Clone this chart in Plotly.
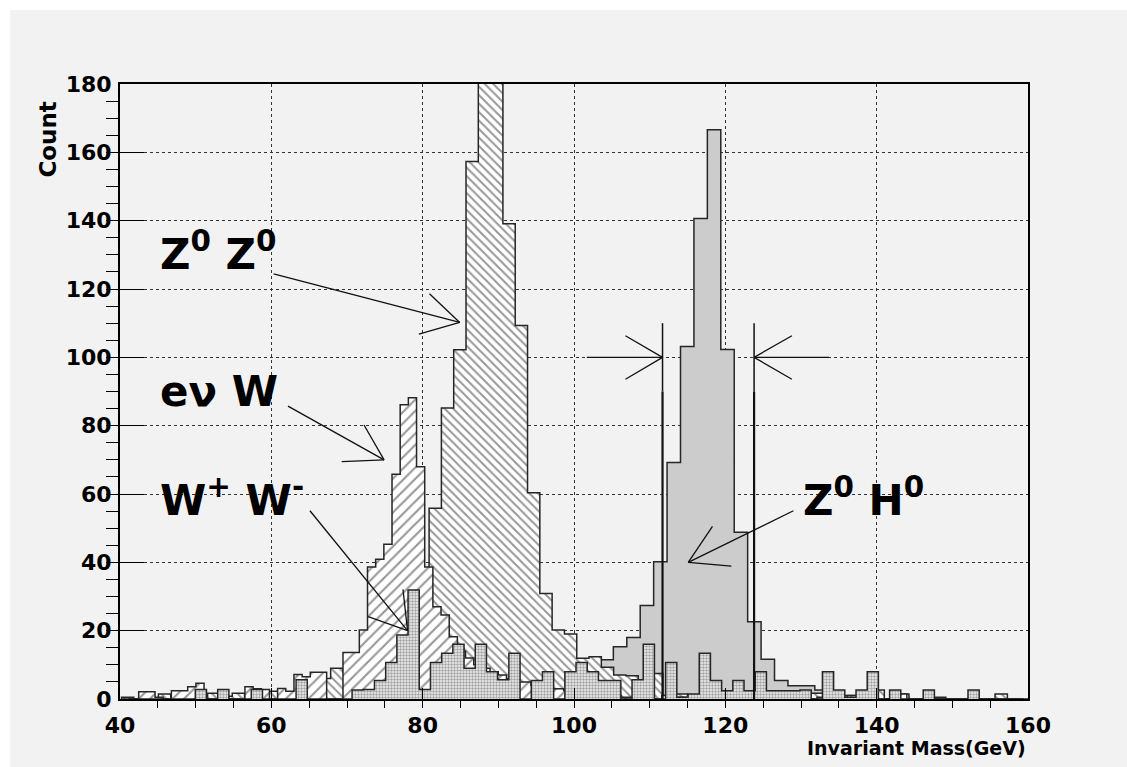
import numpy as np
import plotly.graph_objects as go

# ---- histogram contents (counts per bin) ----
# Z0 H0 signal, bins of 1.775 GeV starting at 41.30 GeV
zh_start, zh_width = 41.30, 1.775
zh_counts = [0] * 35 + [
    11.5, 15.3, 18.0, 27.4, 40.2, 69.2, 103.2, 140.6, 166.6, 102.3,
    48.8, 22.6, 11.6, 5.4, 3.9, 3.9, 2.6, 1.5, 1.0, 0.5, 0.5, 0, 0.5,
]

# Z0 Z0 background, bins of 1.626 GeV starting at 40.20 GeV
zz_start, zz_width = 40.20, 1.626
zz_counts = [
    0.5, 0, 0, 1.5, 0, 2.1, 0, 1.7, 0.8, 1.7,
    0, 2.3, 2.3, 0, 0, 3.0, 6.0, 9.0, 8.0, 8.0,
    15.0, 20.0, 25.0, 30.0, 35.0, 55.8, 85.2, 102.2, 157.3, 200.0,
    192.0, 139.1, 109.3, 60.4, 30.9, 20.2, 19.0, 11.9, 12.4, 9.3,
    7.0, 6.8, 5.6, 7.5, 1.0, 1.5, 1.0, 0.5, 0, 0.5,
    0, 0, 0.5, 0, 0, 0, 1.7, 0, 0, 1.0,
    0, 2.6, 0, 1.5, 0, 0, 0.5, 0, 0, 0,
    0, 1.5, 0, 0,
]

# e nu W background, bins of 1.08 GeV starting at 40.31 GeV
enw_start, enw_width = 40.31, 1.08
enw_counts = [
    0, 0, 2.1, 2.1, 0.5, 0, 2.4, 2.4, 3.6, 4.6,
    0, 0, 0.8, 0, 0, 3.6, 3.0, 2.8, 0, 3.1,
    2.3, 7.2, 6.5, 7.8, 7.8, 0, 0, 13.6, 13.6, 20.2,
    38.6, 40.9, 45.3, 65.8, 86.1, 88.2, 68.0, 38.6, 27.0, 24.6,
    18.2, 14.0, 12.0, 10.0, 9.0, 8.0, 7.0, 6.0, 5.0, 5.0,
    4.0, 4.0, 3.0, 3.0, 2.5, 2.0, 2.0, 1.5, 1.5, 1.0,
    1.0, 0.5, 0.5, 0, 0, 0, 1.0, 0, 0.5, 0,
    0, 0, 0, 0, 0.5, 0, 0, 0, 0, 0,
    0, 0, 0, 0, 0, 0.5, 0, 0, 0, 0,
    0, 0, 0, 0, 0, 1.5, 0, 0, 0, 0,
    0, 0, 0, 0, 0, 0, 0, 0, 0, 0,
]

# W+ W- background, bins of 1.48 GeV starting at 41.07 GeV
ww_start, ww_width = 41.07, 1.48
ww_counts = [
    0, 0, 0, 0, 0, 0, 2.8, 0, 2.8, 0,
    0, 2.8, 0, 0, 0, 5.6, 0, 0, 0, 0,
    2.6, 2.8, 5.4, 10.7, 18.7, 31.9, 2.8, 10.7, 13.4, 16.0,
    9.0, 16.0, 8.0, 5.6, 13.4, 0, 5.4, 8.0, 0, 8.0,
    10.7, 8.0, 5.4, 5.4, 0, 5.6, 16.0, 0, 10.7, 0.5,
    1.5, 13.4, 5.4, 2.4, 5.4, 2.4, 8.0, 2.4, 2.4, 2.4,
    2.6, 0, 8.0, 2.6, 0.5, 2.6, 8.0, 0, 2.6, 0,
    0, 2.6, 0, 0, 0, 2.6, 0, 0, 0, 0,
]

# axis ranges and tick values
x_range = [40, 160]
y_range = [0, 180]
x_ticks = [40, 60, 80, 100, 120, 140, 160]
y_ticks = [0, 20, 40, 60, 80, 100, 120, 140, 160, 180]

# mass window cut positions (GeV)
cut_low, cut_high = 111.7, 123.8


def step_outline(start, width, counts):
    """Return x/y points of a histogram outline for an 'hv' line."""
    counts = list(counts)
    edges = start + width * np.arange(len(counts) + 1)
    xs = [edges[0]] + list(edges[:-1]) + [edges[-1]]
    ys = [0] + counts + [0]
    return xs, ys


FONT = "DejaVu Sans, Verdana, sans-serif"
OUTLINE = "#262626"
BG = "#f2f2f2"

fig = go.Figure()


def add_hist(start, width, counts, fillcolor, pattern=None, name=""):
    xs, ys = step_outline(start, width, counts)
    kw = dict(
        x=xs, y=ys, mode="lines", line=dict(shape="hv", color=OUTLINE, width=1.5),
        fill="tozeroy", fillcolor=fillcolor, name=name, showlegend=False,
        hoverinfo="skip",
    )
    if pattern is not None:
        kw["fillpattern"] = pattern
    fig.add_trace(go.Scatter(**kw))


# draw order: signal first, then overlays on top
add_hist(zh_start, zh_width, zh_counts, "#cccccc", name="ZH")
add_hist(zz_start, zz_width, zz_counts, "white",
         dict(shape="\\", fgcolor="#303030", bgcolor="white", size=6, solidity=0.33), "ZZ")
add_hist(enw_start, enw_width, enw_counts, "white",
         dict(shape="/", fgcolor="#303030", bgcolor="white", size=8, solidity=0.27), "enuW")
add_hist(ww_start, ww_width, ww_counts, "white",
         dict(shape=".", fgcolor="#555555", bgcolor="#f0f0f0", size=3, solidity=0.5), "WW")

shapes = []


def seg(x0, y0, x1, y1, w=1.3, color="#111111"):
    shapes.append(dict(type="line", xref="x", yref="y", x0=x0, y0=y0, x1=x1, y1=y1,
                       line=dict(color=color, width=w)))


# mass window markers
for xc in (cut_low, cut_high):
    seg(xc, 0, xc, 90, w=2.2)
    seg(xc, 90, xc, 110, w=1.5)
seg(101.7, 100, cut_low, 100)
seg(cut_low, 100, 106.8, 106.3)
seg(cut_low, 100, 106.8, 93.6)
seg(133.7, 100, cut_high, 100)
seg(cut_high, 100, 128.8, 106.3)
seg(cut_high, 100, 128.8, 93.6)

# label pointers
seg(60.3, 124.4, 84.9, 110.2)
seg(84.9, 110.2, 80.9, 118.6)
seg(84.9, 110.2, 79.5, 106.8)

seg(62.2, 85.7, 74.9, 70.0)
seg(74.9, 70.0, 72.25, 80.2)
seg(74.9, 70.0, 69.3, 69.5)

seg(65.1, 55.1, 78.0, 20.0)
seg(78.0, 20.0, 77.4, 32.1)
seg(78.0, 20.0, 72.8, 24.1)

seg(129.0, 55.1, 115.1, 40.0)
seg(115.1, 40.0, 118.3, 50.5)
seg(115.1, 40.0, 120.8, 38.9)

# white strips at top and left page edges
shapes.append(dict(type="rect", xref="paper", yref="paper", x0=-0.2, x1=1.2,
                   y0=1 + 74 / 615, y1=1.3, fillcolor="white", line=dict(width=0), layer="below"))
shapes.append(dict(type="rect", xref="paper", yref="paper", x0=-0.2, x1=-110 / 908,
                   y0=-0.2, y1=1.3, fillcolor="white", line=dict(width=0), layer="below"))

label_font = dict(family=FONT, size=42, color="black", weight="bold")
annotations = [
    dict(x=45.0, y=131, text="Z<sup>0</sup> Z<sup>0</sup>", xanchor="left", yanchor="middle"),
    dict(x=45.0, y=90, text="e\u03bd W", xanchor="left", yanchor="middle"),
    dict(x=45.0, y=59, text="W<sup>+</sup> W<sup>-</sup>", xanchor="left", yanchor="middle"),
    dict(x=130.0, y=59, text="Z<sup>0</sup> H<sup>0</sup>", xanchor="left", yanchor="middle"),
]
for a in annotations:
    a.update(xref="x", yref="y", showarrow=False, font=label_font)

annotations.append(dict(x=1.0, y=(699 - 735) / 615, xref="paper", yref="paper", xanchor="right",
                        yanchor="top", showarrow=False, text="Invariant Mass(GeV)",
                        font=dict(family=FONT, size=19, color="black", weight="bold")))
annotations.append(dict(x=(48 - 120.4) / 907.6, y=(699 - 140) / 615, xref="paper", yref="paper",
                        xanchor="center", yanchor="middle", showarrow=False, text="Count",
                        textangle=-90,
                        font=dict(family=FONT, size=23, color="black", weight="bold")))

fig.update_layout(
    width=1127, height=767,
    margin=dict(l=120, r=99, t=84, b=68, autoexpand=False),
    paper_bgcolor=BG, plot_bgcolor=BG,
    shapes=shapes, annotations=annotations,
)

axis_common = dict(
    showline=True, mirror=True, linecolor="black", linewidth=2,
    showgrid=True, gridcolor="#333333", griddash="dot", gridwidth=1,
    ticks="inside", tickcolor="black", tickwidth=1.2,
    tickfont=dict(family=FONT, size=22, color="black", weight="bold"),
    zeroline=False,
)
fig.update_xaxes(range=x_range, tickvals=x_ticks, ticklen=11, ticklabelstandoff=6,
                 minor=dict(dtick=5, ticklen=7, tickcolor="black", showgrid=False),
                 **axis_common)
fig.update_yaxes(range=y_range, tickvals=y_ticks, ticklen=24, ticklabelstandoff=2,
                 minor=dict(dtick=5, ticklen=12, tickcolor="black", showgrid=False),
                 **axis_common)

fig.write_html("out.html")
